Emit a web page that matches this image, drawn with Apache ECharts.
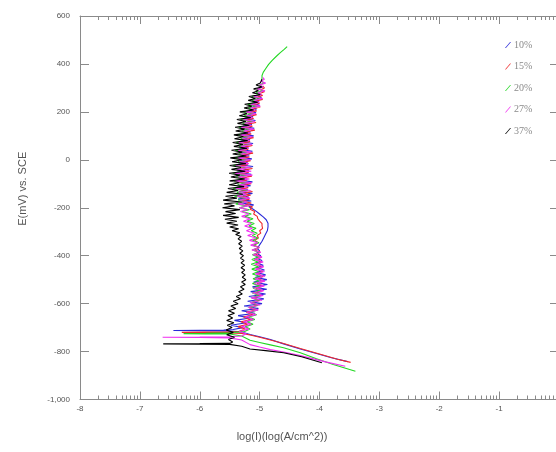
<!DOCTYPE html>
<html>
<head>
<meta charset="utf-8">
<script src="https://cdn.jsdelivr.net/npm/echarts@6/dist/echarts.min.js"></script>
<style>html,body{margin:0;padding:0;background:#fff}#c{width:556px;height:452px}</style>
</head>
<body>
<div id="c"></div>
<script>
// ---- data ----
const seriesNames = ['10%', '15%', '20%', '27%', '37%'];
const xMajorTicks = [-8, -7, -6, -5, -4, -3, -2, -1, 0];
const yMajorTicks = [600, 400, 200, 0, -200, -400, -600, -800, -1000];
const decadeMinorSteps = [2, 3, 4, 5, 6, 7, 8, 9];

// cathodic branch + corrosion spike  [log(i), E]
const cath10 = [[-3.53,-842],[-3.8,-826],[-4.05,-808],[-4.32,-789],[-4.6,-768],[-4.82,-750],[-5.0,-738],[-5.16,-729],[-5.3,-718],[-5.5,-714],[-6.0,-713],[-6.44,-712],[-6.0,-711],[-5.6,-710],[-5.44,-708]];
const cath15 = [[-3.48,-845],[-3.7,-832],[-4.0,-810],[-4.32,-787],[-4.6,-766],[-4.82,-752],[-5.0,-740],[-5.16,-731],[-5.3,-724],[-5.5,-722],[-5.9,-721],[-6.30,-720],[-5.9,-719],[-5.5,-718],[-5.35,-716]];
const cath20 = [[-3.40,-882],[-3.77,-854],[-4.05,-830],[-4.32,-805],[-4.6,-784],[-4.82,-772],[-5.0,-762],[-5.16,-753],[-5.3,-735],[-5.5,-727],[-5.9,-726],[-6.27,-725],[-5.9,-724],[-5.5,-722],[-5.25,-716]];
const cath27 = [[-3.57,-861],[-3.9,-843],[-4.32,-817],[-4.6,-802],[-4.82,-792],[-5.0,-781],[-5.16,-771],[-5.3,-752],[-5.5,-743],[-6.0,-741],[-6.62,-740],[-6.0,-739],[-5.5,-738],[-5.3,-735]];
const cath37 = [[-3.96,-847],[-4.3,-822],[-4.60,-805],[-4.9,-796],[-5.16,-789],[-5.3,-778],[-5.5,-770],[-6.0,-769],[-6.61,-768],[-6.0,-767],[-5.5,-766],[-5.45,-760]];

// anodic branch  [log(i), E]
const anod10 = [[-5.28,-700],[-5.48,-690],[-5.22,-680],[-5.42,-670],[-5.16,-660],[-5.36,-650],[-5.08,-640],[-5.30,-630],[-5.02,-620],[-5.26,-610],[-4.96,-600],[-5.20,-590],[-4.93,-580],[-5.18,-570],[-4.90,-560],[-5.15,-550],[-4.88,-540],[-5.12,-530],[-4.87,-520],[-5.10,-510],[-4.88,-500],[-5.07,-490],[-4.90,-480],[-5.05,-470],[-4.92,-460],[-5.04,-450],[-4.94,-440],[-5.05,-430],[-4.96,-420],[-5.06,-410],[-4.98,-400],[-5.05,-390],[-5.00,-380],[-5.04,-370],
  [-5.00,-355],[-4.96,-340],[-4.93,-325],[-4.90,-310],[-4.87,-295],[-4.86,-280],[-4.86,-265],[-4.89,-250],[-4.94,-238],[-5.00,-226],[-5.06,-214],[-5.12,-204],[-5.18,-196],
  [-5.10,-188],[-5.30,-180],[-5.14,-172],[-5.36,-164],[-5.18,-156],[-5.28,-148],[-5.12,-140],[-5.34,-132],[-5.20,-124],[-5.38,-116],[-5.15,-108],[-5.30,-100],[-5.12,-92],[-5.35,-84],[-5.22,-76],[-5.33,-68],[-5.14,-60],[-5.38,-52],[-5.18,-44],[-5.29,-36],[-5.11,-28],[-5.36,-20],[-5.20,-12],[-5.32,-4],[-5.13,4],[-5.35,12],[-5.17,20],[-5.30,28],[-5.12,36],[-5.34,44],[-5.19,52],[-5.28,60],[-5.11,68],[-5.33,76],[-5.16,84],[-5.27,92],[-5.10,100],[-5.31,108],[-5.15,116],[-5.25,124],[-5.09,132],[-5.28,140],[-5.13,148],[-5.22,156],[-5.07,164],[-5.25,172],[-5.11,180],[-5.19,188],[-5.06,196],[-5.18,204],[-5.05,212],[-5.12,220],[-5.00,228],[-5.12,236],[-5.01,244],[-5.07,252],[-4.97,260],[-5.03,268]];
const anod15 = [[-5.24,-706],[-5.36,-696],[-5.20,-686],[-5.31,-676],[-5.15,-666],[-5.27,-656],[-5.11,-646],[-5.22,-636],[-5.06,-626],[-5.18,-616],[-5.03,-606],[-5.14,-596],[-5.00,-586],[-5.11,-576],[-4.97,-566],[-5.08,-556],[-4.95,-546],[-5.06,-536],[-4.94,-526],[-5.04,-516],[-4.93,-506],[-5.03,-496],[-4.94,-486],[-5.04,-476],[-4.95,-466],[-5.05,-456],[-4.95,-446],[-5.06,-436],[-4.96,-426],[-5.06,-416],[-4.97,-406],[-5.07,-396],[-4.99,-386],[-5.08,-376],[-5.01,-366],[-5.09,-356],[-5.03,-346],[-5.08,-336],[-5.02,-326],[-5.04,-316],[-4.98,-306],[-5.00,-296],[-4.95,-286],[-4.96,-276],[-4.96,-266],[-5.00,-256],[-5.03,-246],[-5.04,-236],[-5.10,-226],[-5.08,-216],[-5.16,-206],[-5.12,-196],
  [-5.24,-188],[-5.14,-180],[-5.30,-172],[-5.17,-164],[-5.34,-156],[-5.15,-148],[-5.28,-140],[-5.12,-132],[-5.36,-124],[-5.19,-116],[-5.31,-108],[-5.14,-100],[-5.37,-92],[-5.21,-84],[-5.30,-76],[-5.13,-68],[-5.35,-60],[-5.18,-52],[-5.28,-44],[-5.12,-36],[-5.37,-28],[-5.20,-20],[-5.31,-12],[-5.15,-4],[-5.34,4],[-5.17,12],[-5.29,20],[-5.11,28],[-5.33,36],[-5.19,44],[-5.27,52],[-5.12,60],[-5.32,68],[-5.16,76],[-5.26,84],[-5.10,92],[-5.30,100],[-5.14,108],[-5.24,116],[-5.08,124],[-5.28,132],[-5.12,140],[-5.22,148],[-5.06,156],[-5.25,164],[-5.10,172],[-5.19,180],[-5.05,188],[-5.19,196],[-5.05,204],[-5.12,212],[-4.99,220],[-5.12,228],[-5.00,236],[-5.07,244],[-4.95,252],[-5.06,260],[-4.95,268],[-5.01,276],[-4.92,284],[-4.98,292],[-4.92,300],[-4.95,308]];
const anod20 = [[-5.16,-706],[-5.24,-696],[-5.11,-686],[-5.21,-676],[-5.08,-666],[-5.18,-656],[-5.05,-646],[-5.16,-636],[-5.03,-626],[-5.15,-616],[-5.02,-606],[-5.14,-596],[-5.00,-586],[-5.13,-576],[-5.01,-566],[-5.12,-556],[-4.99,-546],[-5.11,-536],[-5.00,-526],[-5.12,-516],[-5.01,-506],[-5.11,-496],[-5.00,-486],[-5.12,-476],[-5.02,-466],[-5.13,-456],[-5.02,-446],[-5.14,-436],[-5.03,-426],[-5.13,-416],[-5.02,-406],[-5.12,-396],[-5.01,-386],[-5.12,-376],[-5.02,-366],[-5.11,-356],[-5.01,-346],[-5.12,-336],[-5.03,-326],[-5.12,-316],[-5.04,-306],[-5.14,-296],[-5.06,-286],[-5.18,-276],[-5.09,-266],[-5.21,-256],[-5.11,-246],[-5.25,-236],[-5.14,-226],[-5.29,-216],[-5.17,-208],[-5.34,-200],[-5.20,-192],[-5.40,-184],[-5.22,-176],[-5.36,-168],[-5.19,-160],[-5.42,-152],[-5.24,-144],[-5.38,-136],[-5.20,-128],[-5.44,-120],[-5.26,-112],[-5.37,-104],[-5.21,-96],[-5.43,-88],[-5.25,-80],[-5.39,-72],[-5.20,-64],[-5.45,-56],[-5.27,-48],[-5.38,-40],[-5.22,-32],[-5.44,-24],[-5.25,-16],[-5.36,-8],[-5.19,0],[-5.42,8],[-5.24,16],[-5.35,24],[-5.18,32],[-5.41,40],[-5.23,48],[-5.34,56],[-5.17,64],[-5.39,72],[-5.22,80],[-5.32,88],[-5.15,96],[-5.37,104],[-5.20,112],[-5.30,120],[-5.14,128],[-5.35,136],[-5.18,144],[-5.28,152],[-5.12,160],[-5.32,168],[-5.16,176],[-5.26,184],[-5.10,192],[-5.27,200],[-5.11,208],[-5.19,216],[-5.03,224],[-5.20,232],[-5.05,240],[-5.13,248],[-4.98,256],[-5.13,264],[-5.00,272],[-5.06,280],[-4.94,288],[-5.04,296],[-4.95,304],[-5.00,312],[-4.93,320],[-4.97,330],
  [-4.96,340],[-4.96,352],[-4.94,365],[-4.90,380],[-4.85,398],[-4.79,415],[-4.72,432],[-4.65,448],[-4.59,461],[-4.54,472]];
const anod27 = [[-5.22,-726],[-5.34,-716],[-5.18,-706],[-5.30,-696],[-5.14,-686],[-5.27,-676],[-5.10,-666],[-5.24,-656],[-5.06,-646],[-5.21,-636],[-5.02,-626],[-5.18,-616],[-4.99,-606],[-5.16,-596],[-4.96,-586],[-5.14,-576],[-4.94,-566],[-5.12,-556],[-4.93,-546],[-5.10,-536],[-4.92,-526],[-5.09,-516],[-4.91,-506],[-5.08,-496],[-4.91,-486],[-5.07,-476],[-4.92,-466],[-5.07,-456],[-4.93,-446],[-5.08,-436],[-4.94,-426],[-5.09,-416],[-4.96,-406],[-5.11,-396],[-4.98,-386],[-5.13,-376],[-5.00,-366],[-5.15,-356],[-5.03,-346],[-5.17,-336],[-5.06,-326],[-5.20,-316],[-5.09,-306],[-5.22,-296],[-5.12,-286],[-5.25,-276],[-5.14,-266],[-5.27,-256],[-5.16,-246],[-5.30,-236],[-5.18,-226],[-5.32,-216],[-5.20,-208],[-5.34,-200],[-5.18,-192],[-5.36,-184],[-5.21,-176],[-5.33,-168],[-5.16,-160],[-5.38,-152],[-5.22,-144],[-5.35,-136],[-5.15,-128],[-5.40,-120],[-5.20,-112],[-5.34,-104],[-5.13,-96],[-5.41,-88],[-5.17,-80],[-5.36,-72],[-5.12,-64],[-5.42,-56],[-5.14,-48],[-5.38,-40],[-5.16,-32],[-5.40,-24],[-5.18,-16],[-5.34,-8],[-5.15,0],[-5.37,8],[-5.19,16],[-5.32,24],[-5.14,32],[-5.36,40],[-5.18,48],[-5.31,56],[-5.13,64],[-5.35,72],[-5.17,80],[-5.29,88],[-5.12,96],[-5.33,104],[-5.16,112],[-5.27,120],[-5.10,128],[-5.31,136],[-5.14,144],[-5.25,152],[-5.08,160],[-5.28,168],[-5.12,176],[-5.22,184],[-5.06,192],[-5.23,200],[-5.07,208],[-5.15,216],[-4.99,224],[-5.15,232],[-5.01,240],[-5.09,248],[-4.95,256],[-5.10,264],[-4.97,272],[-5.03,280],[-4.91,288],[-5.04,296],[-4.94,304],[-5.00,312],[-4.90,320],[-4.98,328],[-4.92,336],[-4.95,344]];
const anod37 = [[-5.52,-750],[-5.42,-740],[-5.55,-730],[-5.44,-720],[-5.56,-710],[-5.46,-700],[-5.54,-690],[-5.43,-680],[-5.55,-670],[-5.45,-660],[-5.53,-650],[-5.42,-640],[-5.52,-630],[-5.40,-620],[-5.48,-610],[-5.36,-600],[-5.44,-590],[-5.32,-580],[-5.39,-570],[-5.29,-560],[-5.35,-550],[-5.26,-540],[-5.32,-530],[-5.24,-520],[-5.30,-510],[-5.23,-500],[-5.29,-490],[-5.24,-480],[-5.30,-470],[-5.25,-460],[-5.31,-450],[-5.25,-440],[-5.31,-430],[-5.26,-420],[-5.32,-410],[-5.27,-400],[-5.33,-390],[-5.28,-380],[-5.34,-370],[-5.29,-360],[-5.35,-350],[-5.30,-340],[-5.36,-330],[-5.31,-320],[-5.40,-312],[-5.33,-304],[-5.46,-296],[-5.35,-288],[-5.50,-280],[-5.36,-272],[-5.55,-264],[-5.38,-256],[-5.58,-248],[-5.35,-240],[-5.61,-232],[-5.40,-224],[-5.57,-216],[-5.33,-208],[-5.62,-200],[-5.42,-192],[-5.59,-184],[-5.30,-176],[-5.61,-168],[-5.38,-160],[-5.57,-152],[-5.28,-144],[-5.55,-136],[-5.36,-128],[-5.53,-120],[-5.26,-112],[-5.51,-104],[-5.34,-96],[-5.50,-88],[-5.25,-80],[-5.48,-72],[-5.33,-64],[-5.51,-56],[-5.24,-48],[-5.47,-40],[-5.31,-32],[-5.50,-24],[-5.23,-16],[-5.46,-8],[-5.30,0],[-5.49,8],[-5.22,16],[-5.45,24],[-5.29,32],[-5.47,40],[-5.21,48],[-5.43,56],[-5.28,64],[-5.45,72],[-5.20,80],[-5.42,88],[-5.27,96],[-5.43,104],[-5.19,112],[-5.40,120],[-5.25,128],[-5.41,136],[-5.17,144],[-5.37,152],[-5.23,160],[-5.38,168],[-5.15,176],[-5.34,184],[-5.21,192],[-5.33,200],[-5.10,208],[-5.26,216],[-5.13,224],[-5.25,232],[-5.03,240],[-5.19,248],[-5.07,256],[-5.18,264],[-4.99,272],[-5.12,280],[-5.02,288],[-5.10,296],[-4.96,304],[-5.06,312],[-4.99,320],[-5.02,328],[-4.96,336]];

const colors = ['#2a2ad8', '#ee2a2a', '#22d822', '#f030f0', '#000000'];
const curves = [cath10.concat(anod10), cath15.concat(anod15), cath20.concat(anod20), cath27.concat(anod27), cath37.concat(anod37)];

// log-decade minor tick positions (axis decoration)
const xMinorTicks = [];
for (let d = -8; d < 0; d++) decadeMinorSteps.forEach(k => xMinorTicks.push(+(d + Math.log10(k)).toFixed(4)));

const axisGray = '#8a8a8a';
const labelStyle = { color: '#555', fontSize: 8, fontFamily: 'Liberation Sans' };

function xAx(pos, ticks, len, showLabel, showLine, name) {
  return {
    type: 'value', position: pos, min: -8, max: 0, interval: 1,
    name: name || '', nameLocation: 'middle', nameGap: 32,
    nameTextStyle: { color: '#555', fontSize: 11, fontFamily: 'Liberation Sans', padding: [0, 75, 0, 0] },
    axisLine: { show: showLine, onZero: false, lineStyle: { color: axisGray, width: 1 } },
    axisTick: { show: true, inside: true, length: len, customValues: ticks, lineStyle: { color: axisGray } },
    axisLabel: { show: showLabel, customValues: xMajorTicks, margin: 5, ...labelStyle },
    splitLine: { show: false }
  };
}

const chart = echarts.init(document.getElementById('c'), null, { renderer: 'canvas' });
chart.setOption({
  animation: false,
  backgroundColor: '#ffffff',
  grid: { left: 80, width: 479, top: 16, bottom: 52.5, containLabel: false, outerBoundsMode: 'none' },
  legend: {
    orient: 'vertical', left: 500, top: 35, itemGap: 11.5, itemWidth: 6, itemHeight: 9,
    icon: 'path://M0,10 L8.5,0 L10,0 L1.5,10 Z',
    data: seriesNames,
    textStyle: { color: '#8a8a8a', fontSize: 10, fontFamily: 'Liberation Serif', padding: [0, 0, 0, -2] }
  },
  xAxis: [
    xAx('bottom', xMajorTicks, 8, true, true, 'log(I)(log(A/cm^2))'),
    xAx('bottom', xMinorTicks, 4, false, false),
    xAx('top', xMajorTicks, 8, false, true),
    xAx('top', xMinorTicks, 4, false, false)
  ],
  yAxis: [
    {
      type: 'value', position: 'left', min: -1000, max: 600, interval: 200,
      name: 'E(mV) vs. SCE', nameLocation: 'middle', nameGap: 52,
      nameTextStyle: { color: '#555', fontSize: 11, fontFamily: 'Liberation Sans', padding: [0, 0, 0, 38] },
      axisLine: { show: true, onZero: false, lineStyle: { color: axisGray } },
      axisTick: { show: true, inside: true, length: 9, lineStyle: { color: axisGray } },
      axisLabel: { margin: 10, ...labelStyle },
      splitLine: { show: false }
    },
    {
      type: 'value', position: 'right', min: -1000, max: 600, interval: 200,
      axisLine: { show: true, onZero: false, lineStyle: { color: axisGray } },
      axisTick: { show: true, inside: true, length: 9, lineStyle: { color: axisGray } },
      axisLabel: { show: false },
      splitLine: { show: false }
    }
  ],
  series: curves.map((d, i) => ({
    name: seriesNames[i], type: 'line', xAxisIndex: 0, yAxisIndex: 0,
    data: d, showSymbol: false, symbol: 'none',
    itemStyle: { color: colors[i] },
    lineStyle: { color: colors[i], width: 1.1 }
  }))
});
</script>
</body>
</html>
